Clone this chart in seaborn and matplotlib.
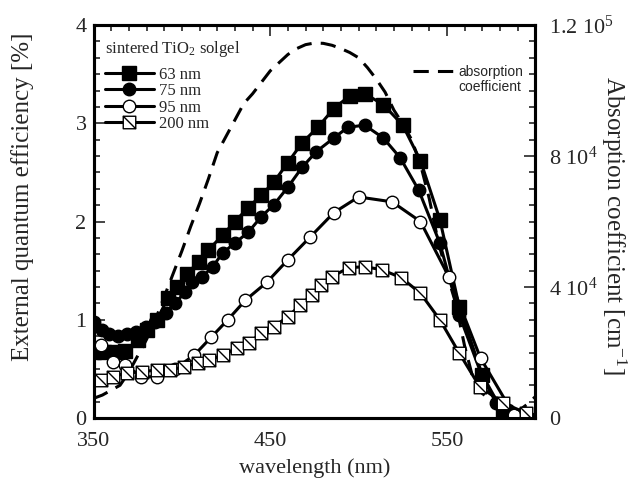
import numpy as np
import pandas as pd
import seaborn as sns
import matplotlib
matplotlib.use("Agg")
import matplotlib.pyplot as plt
from matplotlib.path import Path
from matplotlib.ticker import MultipleLocator, FixedLocator, FixedFormatter
from matplotlib.lines import Line2D

# ---- data ----
wl_63 = [350, 356, 362, 368, 375, 380.5, 386, 392, 397.5, 403, 409.5, 415, 423, 430, 437.5, 445,
         452, 460, 468, 477, 486, 495, 503.5, 514, 525, 535, 546, 557, 570, 582, 595]
eqe_63 = [0.67, 0.67, 0.67, 0.68, 0.79, 0.9, 1.0, 1.22, 1.33, 1.47, 1.59, 1.71, 1.86, 2.0, 2.14, 2.27,
          2.4, 2.6, 2.8, 2.96, 3.15, 3.28, 3.3, 3.19, 2.98, 2.62, 2.02, 1.13, 0.44, 0.05, -0.02]

wl_75 = [350, 355, 359, 364, 369, 374, 379.5, 385, 391, 396, 402, 406, 411.5, 417.5, 423, 430,
         437.5, 445, 452, 460, 468, 476, 486, 494, 503.5, 514, 523.5, 534, 546, 557, 570, 578, 584.5]
eqe_75 = [0.98, 0.9, 0.85, 0.83, 0.85, 0.88, 0.93, 0.98, 1.07, 1.17, 1.28, 1.38, 1.44, 1.54, 1.68, 1.78,
          1.89, 2.05, 2.17, 2.35, 2.55, 2.71, 2.85, 2.96, 2.98, 2.85, 2.65, 2.32, 1.78, 1.05, 0.42, 0.15, 0.08]

wl_95 = [354, 361, 368, 377, 386, 396, 407, 416.5, 426, 436, 448, 460, 472.5, 486, 500, 519, 535, 551, 569, 588]
eqe_95 = [0.74, 0.57, 0.54, 0.42, 0.42, 0.5, 0.64, 0.82, 1.0, 1.2, 1.38, 1.61, 1.84, 2.09, 2.25, 2.2, 2.0,
          1.44, 0.61, 0.03]

wl_200 = [354, 361, 369, 377.5, 386, 393.5, 401, 409, 415.5, 423, 431, 438, 445, 452, 460, 467, 473.5,
          479, 485, 494.5, 503.5, 513, 524, 535, 546, 557, 568.5, 582, 595]
eqe_200 = [0.39, 0.42, 0.46, 0.47, 0.49, 0.49, 0.52, 0.56, 0.59, 0.64, 0.71, 0.76, 0.87, 0.93, 1.03, 1.15,
           1.25, 1.35, 1.44, 1.53, 1.54, 1.51, 1.43, 1.27, 1.0, 0.66, 0.32, 0.15, 0.05]

wl_abs = [350, 355, 360, 365, 370, 375, 380, 385, 390, 395, 400, 405, 410, 415, 420, 425, 430, 435, 440,
          445, 450, 455, 460, 465, 470, 475, 480, 485, 490, 495, 500, 505, 510, 515, 520, 525, 530, 535,
          540, 545, 550, 555, 560, 565, 570, 575, 580, 585, 590, 595, 600]
absorb = [6000, 7000, 8500, 10000, 14000, 19000, 24000, 30000, 37000, 44000, 51000, 58500, 65500, 73000,
          81000, 86000, 91000, 96000, 99000, 102500, 106000, 108500, 111000, 112800, 114000, 114500,
          114400, 113800, 112800, 111600, 110000, 107000, 103500, 99500, 94000, 89800, 85000, 77500,
          67000, 54000, 44000, 35000, 22000, 11600, 7500, 5500, 3500, 2000, 2000, 4000, 6500]

series = [("63 nm", wl_63, eqe_63), ("75 nm", wl_75, eqe_75),
          ("95 nm", wl_95, eqe_95), ("200 nm", wl_200, eqe_200)]

# square with a diagonal, like the 200 nm marker
diag_sq = Path([(-1, -1), (1, -1), (1, 1), (-1, 1), (-1, -1), (-1, 1), (1, -1)],
               [Path.MOVETO, Path.LINETO, Path.LINETO, Path.LINETO, Path.CLOSEPOLY,
                Path.MOVETO, Path.LINETO])

styles = {
    "63 nm": dict(marker="s", mfc="black", ms=9.5),
    "75 nm": dict(marker="o", mfc="black", ms=9),
    "95 nm": dict(marker="o", mfc="white", ms=9),
    "200 nm": dict(marker=diag_sq, mfc="white", ms=9),
}

sns.set_style("white")
plt.rcParams["font.family"] = ["Liberation Serif", "DejaVu Serif"]
plt.rcParams["mathtext.default"] = "regular"

fig = plt.figure(figsize=(6.29, 4.78), dpi=100)
ax = fig.add_axes([0.1487, 0.1255, 0.7023, 0.8222])
ax2 = ax.twinx()

# absorption first so the EQE curves sit on top
sns.lineplot(x=wl_abs, y=absorb, ax=ax2, color="black", lw=2.2, dashes=False,
             linestyle=(0, (5, 3)), legend=False)

handles = []
for name, xs, ys in series:
    st = styles[name]
    df = pd.DataFrame({"wl": xs, "eqe": ys})
    sns.lineplot(data=df, x="wl", y="eqe", ax=ax, sort=False, color="black", lw=2.2,
                 marker=st["marker"], markersize=st["ms"], markerfacecolor=st["mfc"],
                 markeredgecolor="black", markeredgewidth=1.0, legend=False)
    handles.append(Line2D([], [], color="black", lw=2.2, marker=st["marker"], markersize=st["ms"],
                          markerfacecolor=st["mfc"], markeredgecolor="black", markeredgewidth=1.0,
                          label=name))

ax.set_zorder(ax2.get_zorder() + 1)
ax.patch.set_visible(False)

ax.set_xlim(350, 600)
ax.set_ylim(0, 4)
ax2.set_ylim(0, 120000)

ax.xaxis.set_major_locator(FixedLocator([350, 450, 550]))
ax.xaxis.set_minor_locator(MultipleLocator(10))
ax.yaxis.set_major_locator(MultipleLocator(1))
ax.yaxis.set_minor_locator(MultipleLocator(1 / 6))
ax2.yaxis.set_major_locator(FixedLocator([0, 40000, 80000, 120000]))
ax2.yaxis.set_major_formatter(FixedFormatter(["0", "4 10$^4$", "8 10$^4$", "1.2 10$^5$"]))
ax2.yaxis.set_minor_locator(MultipleLocator(5000))

ax.tick_params(which="both", direction="in", top=True, right=False, labelsize=16, width=1.2)
ax.tick_params(which="major", length=8)
ax.tick_params(which="minor", length=4)
ax.tick_params(axis="y", pad=5)
ax.tick_params(axis="x", pad=10)
ax2.tick_params(which="both", direction="in", labelsize=16, width=1.2, pad=10)
ax2.tick_params(which="major", length=8)
ax2.tick_params(which="minor", length=4)

for a in (ax, ax2):
    for s in a.spines.values():
        s.set_linewidth(2.2)
        s.set_color("black")

ax.set_xlabel("wavelength (nm)", fontsize=16, labelpad=5)
ax.set_ylabel("External quantum efficiency [%]", fontsize=18, va="center")
ax.yaxis.set_label_coords(-0.16, 0.562)
ax2.set_ylabel("Absorption coefficient [cm$^{-1}$]", fontsize=18, rotation=270, va="center")
ax2.yaxis.set_label_coords(1.178, 0.489)
ax.grid(False)
ax2.grid(False)

leg = ax.legend(handles=handles, loc="upper left", frameon=False, fontsize=12,
                title="sintered TiO$_2$ solgel", title_fontsize=12, alignment="left",
                handlelength=2.9, handletextpad=0.3, labelspacing=0.02,
                borderaxespad=0.3, bbox_to_anchor=(0.0, 0.995))
leg._legend_box.sep = 6
leg._legend_handle_box.pad = 0

abs_h = Line2D([], [], color="black", lw=2.2, linestyle=(0, (5, 3)))
blank = Line2D([], [], color="none")
leg2 = ax.legend(handles=[abs_h, blank], labels=["absorption", "coefficient"], loc="upper right",
                 frameon=False, prop={"family": "Liberation Sans", "size": 10},
                 handlelength=3.0, handletextpad=0.2, labelspacing=0.05,
                 bbox_to_anchor=(1.0, 0.93))
ax.add_artist(leg)

fig.savefig("out.png", dpi=100)
